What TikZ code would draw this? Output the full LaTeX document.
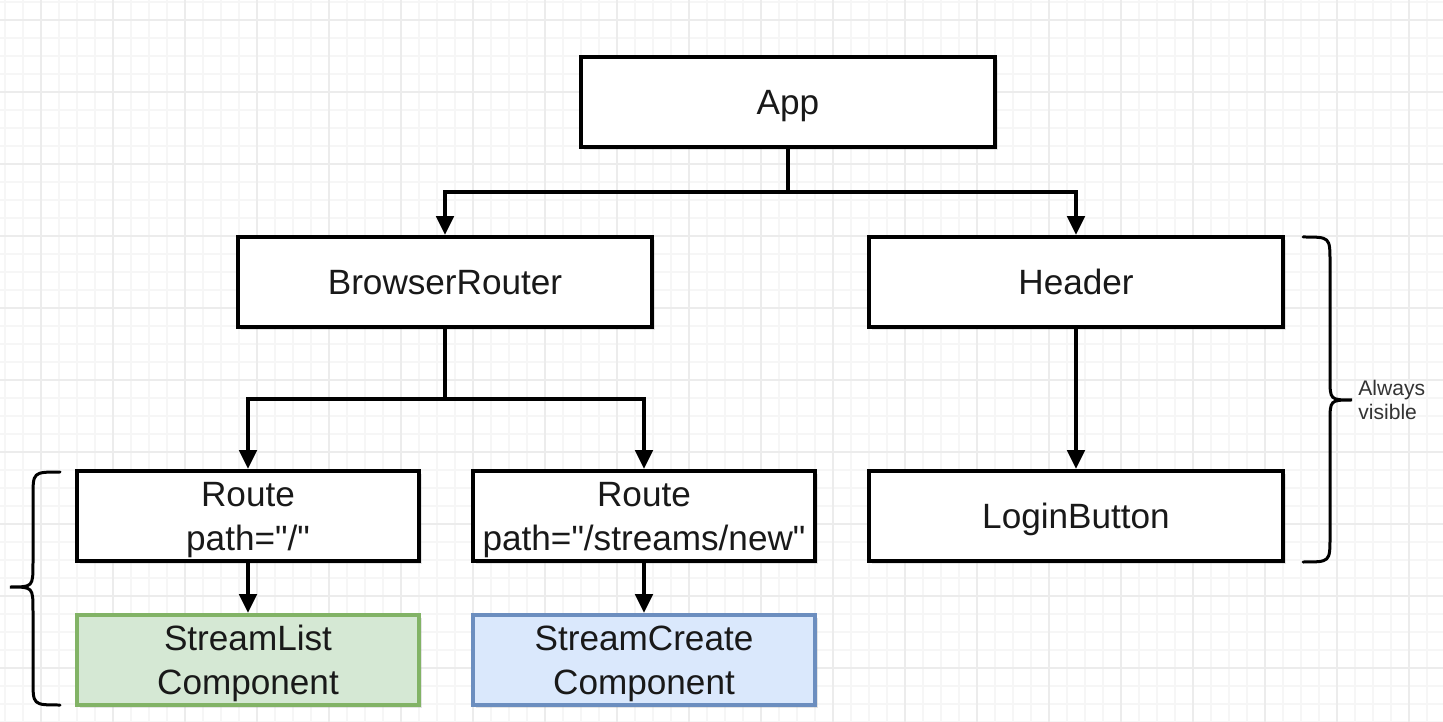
\documentclass[tikz,border=0pt]{standalone}
\usepackage{fontspec}
\newfontfamily\diafont{Liberation Sans}
\usepackage{tikz}
\usetikzlibrary{arrows.meta, calc, shadows}
\definecolor{gridminor}{HTML}{F6F6F6}
\definecolor{gridmajor}{HTML}{ECECEC}
\definecolor{listfill}{HTML}{D5E8D4}
\definecolor{listline}{HTML}{82B366}
\definecolor{createfill}{HTML}{DAE8FC}
\definecolor{createline}{HTML}{6C8EBF}

\begin{document}
\begin{tikzpicture}[x=0.02cm, y=-0.02cm, >={Triangle[width=0.34cm,length=0.38cm]},
  comp/.style={draw=black, fill=white, line width=0.075cm, minimum width=8.28cm, minimum height=1.8cm, align=center, text depth=0pt, text=black!90, font=\diafont\fontsize{20}{25}\selectfont, drop shadow={opacity=0.2, shadow xshift=0.06cm, shadow yshift=-0.06cm}},
  route/.style={comp, minimum width=6.84cm},
  link/.style={->, line width=0.09cm},
  bracket/.style={line width=0.06cm, line cap=round}]
  \useasboundingbox (0,0) rectangle (1443,722);
  \fill[white] (0,0) rectangle (1443,722);
  % background grid
  \foreach \gx in {5,23,...,1443} \draw[gridminor, line width=0.03cm] (\gx,0) -- (\gx,722);
  \foreach \gy in {2,20,...,722} \draw[gridminor, line width=0.03cm] (0,\gy) -- (1443,\gy);
  \foreach \gx in {41,113,...,1443} \draw[gridmajor, line width=0.03cm] (\gx,0) -- (\gx,722);
  \foreach \gy in {20,92,...,722} \draw[gridmajor, line width=0.03cm] (0,\gy) -- (1443,\gy);

  \node[comp] (app) at (788,102) {App};
  \node[comp] (router) at (445,282) {BrowserRouter};
  \node[comp] (header) at (1076,282) {Header};
  \node[route] (home) at (248,516) {Route\\path="/"};
  \node[route] (newroute) at (644,516) {Route\\path="/streams/new"};
  \node[comp] (login) at (1076,516) {LoginButton};
  \node[route, fill=listfill, draw=listline] (list) at (248,660) {StreamList\\Component};
  \node[route, fill=createfill, draw=createline] (create) at (644,660) {StreamCreate\\Component};

  \draw[link] (app.south) |- ($(app.south)!.5!(router.north)$) -| (router.north);
  \draw[link] (app.south) |- ($(app.south)!.5!(header.north)$) -| (header.north);
  \draw[link] (router.south) |- ($(router.south)!.5!(home.north)$) -| (home.north);
  \draw[link] (router.south) |- ($(router.south)!.5!(newroute.north)$) -| (newroute.north);
  \draw[link] (header) -- (login);
  \draw[link] (home) -- (list);
  \draw[link] (newroute) -- (create);

  % braces
  \draw[bracket] (1303,237) .. controls (1330,237) .. (1330,262) -- (1330,378) .. controls (1330,400) .. (1352,400) .. controls (1330,400) .. (1330,422) -- (1330,537) .. controls (1330,562) .. (1303,562);
  \draw[bracket] (60,472) .. controls (33,472) .. (33,497) -- (33,563) .. controls (33,587) .. (10,587) .. controls (33,587) .. (33,611) -- (33,680) .. controls (33,705) .. (60,705);
  \node[anchor=west, align=left, inner sep=0, text=black!80, font=\diafont\fontsize{12}{14}\selectfont] (always) at (1358,400) {Always\\visible};
\end{tikzpicture}
\end{document}
